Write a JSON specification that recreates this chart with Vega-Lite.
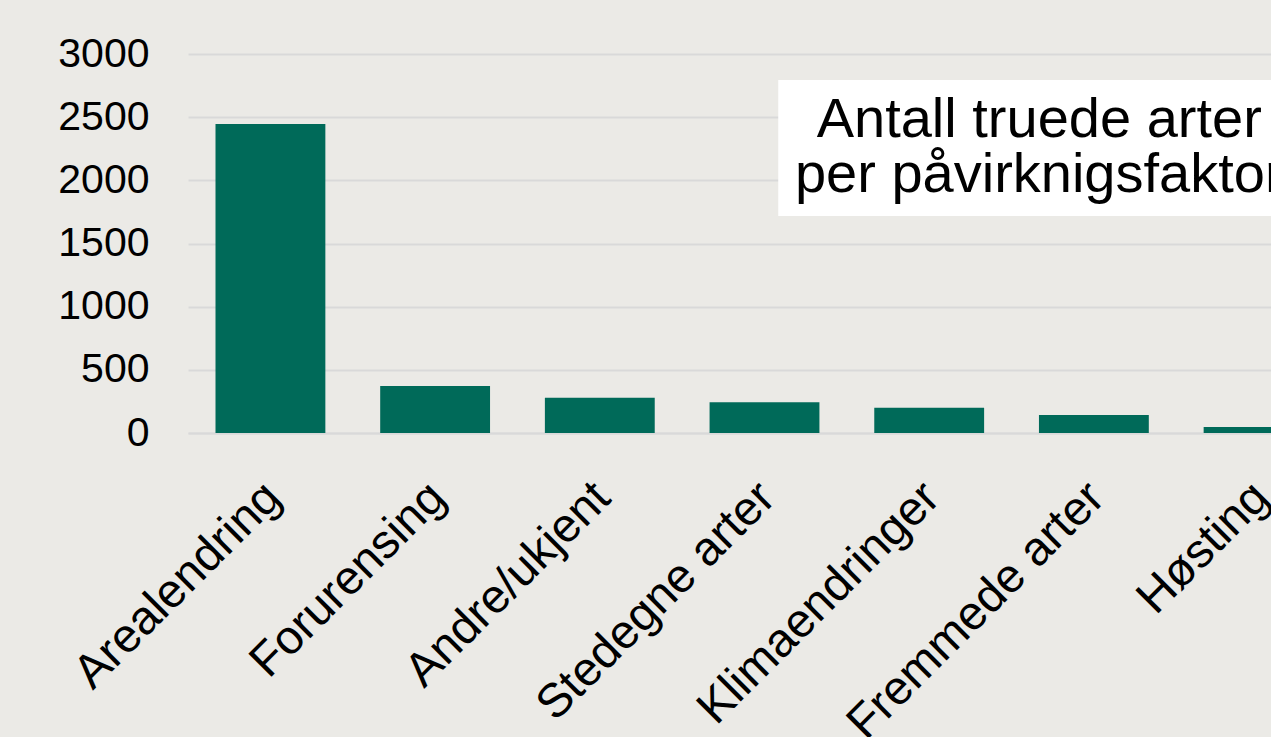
{
  "$schema": "https://vega.github.io/schema/vega-lite/v6.json",
  "autosize": {"type": "none"},
  "width": 1083,
  "height": 379,
  "padding": {"left": 188, "top": 54, "right": 0, "bottom": 304},
  "background": "#EBEAE6",
  "config": {
    "view": {"stroke": null},
    "font": "Liberation Sans"
  },
  "layer": [
    {
      "data": {
        "values": [
          {"faktor": "Arealendring", "antall": 2446},
          {"faktor": "Forurensing", "antall": 372},
          {"faktor": "Andre/ukjent", "antall": 280},
          {"faktor": "Stedegne arter", "antall": 243},
          {"faktor": "Klimaendringer", "antall": 200},
          {"faktor": "Fremmede arter", "antall": 142},
          {"faktor": "Høsting", "antall": 48}
        ]
      },
      "mark": {"type": "bar", "color": "#006A59"},
      "encoding": {
        "x": {
          "field": "faktor",
          "type": "nominal",
          "sort": null,
          "scale": {"range": [0, 1153], "paddingInner": 0.333, "paddingOuter": 0.167},
          "axis": {
            "title": null,
            "labelAngle": -45,
            "labelFontSize": 47.5,
            "labelColor": "#000000",
            "labelFont": "Liberation Sans",
            "labelPadding": 40,
            "labelOffset": -14,
            "labelLimit": 0,
            "labelOverlap": false,
            "ticks": false,
            "domainColor": "#D9D9D9",
            "domainWidth": 2,
            "grid": false
          }
        },
        "y": {
          "field": "antall",
          "type": "quantitative",
          "scale": {"domain": [0, 3000], "nice": false},
          "axis": {
            "title": null,
            "values": [0, 500, 1000, 1500, 2000, 2500, 3000],
            "format": "d",
            "labelFontSize": 41,
            "labelColor": "#000000",
            "labelFont": "Liberation Sans",
            "labelPadding": 39,
            "ticks": false,
            "domain": false,
            "gridColor": "#D9D9D9",
            "gridWidth": 2
          }
        }
      }
    },
    {
      "data": {"values": [{"x1": 0.545, "x2": 1.2, "y1": 1718, "y2": 2795}]},
      "mark": {"type": "rect", "color": "#FFFFFF", "clip": true},
      "encoding": {
        "x": {"field": "x1", "type": "quantitative", "scale": {"domain": [0, 1]}, "axis": null},
        "x2": {"field": "x2"},
        "y": {"field": "y1", "type": "quantitative"},
        "y2": {"field": "y2"}
      }
    },
    {
      "data": {"values": [{"x": 0.786, "y": 2343, "label": "Antall truede arter\nper påvirknigsfaktor"}]},
      "mark": {"type": "text", "fontSize": 56, "lineHeight": 55, "lineBreak": "\n", "align": "center", "baseline": "alphabetic", "color": "#000000", "clip": true, "font": "Liberation Sans"},
      "encoding": {
        "x": {"field": "x", "type": "quantitative", "scale": {"domain": [0, 1]}, "axis": null},
        "y": {"field": "y", "type": "quantitative"},
        "text": {"field": "label"}
      }
    }
  ],
  "resolve": {"scale": {"x": "independent"}}
}
